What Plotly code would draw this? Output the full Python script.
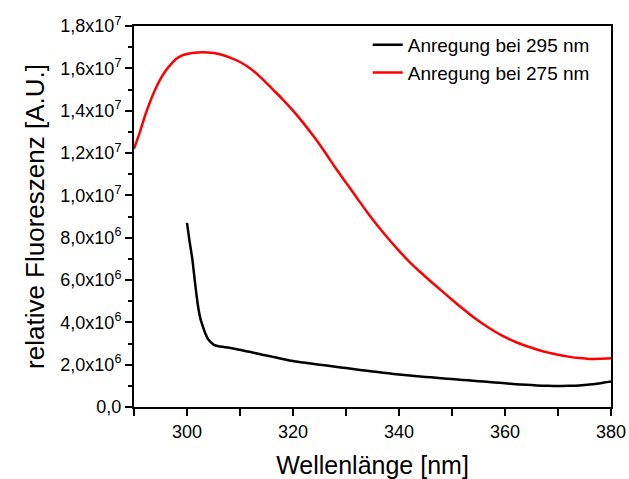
import plotly.graph_objects as go

# Black curve: excitation at 295 nm
x_295 = [300, 300.5, 301, 301.5, 302, 302.5, 303, 303.5, 304, 305, 306, 308, 310, 312, 314, 316, 318,
         320, 322, 324, 326, 328, 330, 332, 334, 336, 338, 340, 342, 344, 346, 348, 350,
         352, 354, 356, 358, 360, 362, 364, 366, 368, 370, 372, 374, 376, 378, 380]
y_295 = [8.7e6, 7.8e6, 7.0e6, 5.9e6, 4.9e6, 4.2e6, 3.8e6, 3.45e6, 3.2e6, 2.95e6, 2.87e6, 2.8e6, 2.7e6,
         2.6e6, 2.48e6, 2.38e6, 2.27e6, 2.17e6, 2.1e6, 2.03e6, 1.97e6, 1.9e6, 1.84e6, 1.77e6, 1.71e6,
         1.65e6, 1.59e6, 1.54e6, 1.49e6, 1.44e6, 1.4e6, 1.36e6, 1.32e6, 1.28e6, 1.24e6, 1.2e6,
         1.16e6, 1.12e6, 1.08e6, 1.05e6, 1.02e6, 1.0e6, 0.99e6, 1.0e6, 1.02e6, 1.06e6, 1.12e6, 1.2e6]

# Red curve: excitation at 275 nm
x_275 = [290, 291, 292, 293, 294, 295, 296, 297, 298, 299, 300, 302, 304, 306, 308, 310, 312, 314,
         316, 318, 320, 322, 324, 326, 328, 330, 332, 334, 336, 338, 340, 342, 344, 346, 348, 350,
         352, 354, 356, 358, 360, 362, 364, 366, 368, 370, 372, 374, 376, 378, 380]
y_275 = [12.2e6, 12.9e6, 13.7e6, 14.4e6, 15.0e6, 15.5e6, 15.9e6, 16.2e6, 16.45e6, 16.6e6, 16.68e6,
         16.75e6, 16.75e6, 16.68e6, 16.52e6, 16.3e6, 15.98e6, 15.55e6, 15.05e6, 14.55e6, 14.0e6,
         13.4e6, 12.75e6, 12.05e6, 11.3e6, 10.6e6, 9.9e6, 9.2e6, 8.55e6, 7.95e6, 7.38e6, 6.85e6,
         6.38e6, 5.93e6, 5.5e6, 5.07e6, 4.65e6, 4.25e6, 3.9e6, 3.58e6, 3.3e6, 3.07e6, 2.88e6, 2.72e6,
         2.58e6, 2.47e6, 2.38e6, 2.31e6, 2.27e6, 2.28e6, 2.3e6]

y_tickvals = [0, 2e6, 4e6, 6e6, 8e6, 1e7, 1.2e7, 1.4e7, 1.6e7, 1.8e7]
y_ticktext = ["0,0", "2,0x10<sup>6</sup>", "4,0x10<sup>6</sup>", "6,0x10<sup>6</sup>",
              "8,0x10<sup>6</sup>", "1,0x10<sup>7</sup>", "1,2x10<sup>7</sup>",
              "1,4x10<sup>7</sup>", "1,6x10<sup>7</sup>", "1,8x10<sup>7</sup>"]
x_tickvals = [300, 320, 340, 360, 380]

FONT = "Arial, Liberation Sans, sans-serif"

fig = go.Figure()
fig.add_trace(go.Scatter(x=x_295, y=y_295, mode="lines", name="Anregung bei 295 nm",
                         line=dict(color="black", width=2.5, shape="spline", smoothing=0.6)))
fig.add_trace(go.Scatter(x=x_275, y=y_275, mode="lines", name="Anregung bei 275 nm",
                         line=dict(color="#ff0000", width=2.5, shape="spline", smoothing=0.6)))

fig.update_layout(
    width=629, height=479,
    margin=dict(l=134, r=18, t=26, b=72, autoexpand=False),
    paper_bgcolor="white", plot_bgcolor="white",
    font=dict(family=FONT, color="black"),
    showlegend=True,
    legend=dict(x=0.49, y=1.0, xanchor="left", yanchor="top",
                bgcolor="rgba(0,0,0,0)", borderwidth=0,
                font=dict(size=19, family=FONT), tracegroupgap=0),
    xaxis=dict(range=[290, 380], tickmode="array", tickvals=x_tickvals, automargin=False,
               ticks="outside", ticklen=7, tickwidth=1.5, tickcolor="black",
               minor=dict(tickmode="linear", tick0=290, dtick=10, ticks="outside",
                          ticklen=7, tickwidth=1.5, tickcolor="black"),
               showline=True, linecolor="black", linewidth=2, mirror=True,
               showgrid=False, zeroline=False,
               tickfont=dict(size=18, family=FONT),
               title=dict(text="Wellenlänge [nm]", font=dict(size=25, family=FONT), standoff=18)),
    yaxis=dict(range=[0, 1.8e7], tickmode="array", tickvals=y_tickvals, ticktext=y_ticktext,
               automargin=False,
               ticks="outside", ticklen=7, tickwidth=1.5, tickcolor="black",
               minor=dict(tickmode="linear", tick0=0, dtick=1e6, ticks="outside",
                          ticklen=4, tickwidth=1.5, tickcolor="black"),
               showline=True, linecolor="black", linewidth=2, mirror=True,
               showgrid=False, zeroline=False,
               tickfont=dict(size=18, family=FONT),
               title=dict(text="relative Fluoreszenz [A.U.]", font=dict(size=26, family=FONT), standoff=8)),
)

fig.write_html("out.html")
